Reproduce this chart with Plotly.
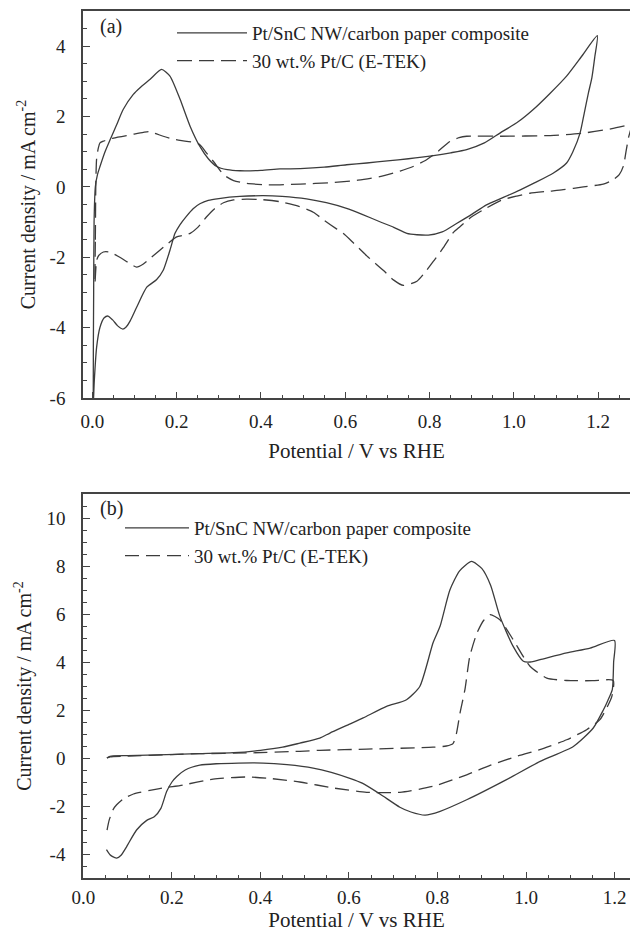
import plotly.graph_objects as go

# ---------------- Panel (a) data ----------------
a_sn_v = [0.002, 0.003, 0.004, 0.007, 0.012, 0.018, 0.030, 0.042, 0.057, 0.073, 0.097, 0.113,
          0.137, 0.164, 0.184, 0.208, 0.232, 0.255, 0.275, 0.295, 0.320, 0.350, 0.400, 0.445,
          0.493, 0.550, 0.603, 0.651, 0.700, 0.750, 0.809, 0.850, 0.888, 0.930, 0.967, 1.010,
          1.046, 1.085, 1.125, 1.160, 1.198,
          1.192, 1.185, 1.177, 1.167, 1.157, 1.140, 1.125, 1.093, 1.050, 1.014, 0.975, 0.935,
          0.900, 0.864, 0.830, 0.797, 0.770, 0.746, 0.715, 0.682, 0.640, 0.603, 0.555, 0.508,
          0.450, 0.405, 0.350, 0.300, 0.275, 0.255, 0.239, 0.222, 0.208, 0.196, 0.184, 0.168,
          0.152, 0.129, 0.105, 0.090, 0.080, 0.072, 0.060, 0.048, 0.037, 0.028, 0.018, 0.010,
          0.0045, 0.002]
a_sn_j = [-6.2, -3.0, -1.0, 0.0, 0.35, 0.58, 1.0, 1.34, 1.75, 2.2, 2.63, 2.82,
          3.06, 3.34, 3.15, 2.49, 1.72, 1.15, 0.80, 0.58, 0.49, 0.46, 0.47, 0.51,
          0.52, 0.56, 0.63, 0.68, 0.74, 0.80, 0.89, 0.97, 1.06, 1.25, 1.53, 1.85,
          2.20, 2.65, 3.15, 3.70, 4.30,
          3.70, 3.10, 2.68, 2.10, 1.53, 1.00, 0.68, 0.39, 0.12, -0.09, -0.30, -0.51,
          -0.78, -1.04, -1.28, -1.37, -1.36, -1.32, -1.15, -0.99, -0.78, -0.61, -0.45, -0.34,
          -0.27, -0.25, -0.27, -0.33, -0.38, -0.48, -0.62, -0.85, -1.07, -1.32, -1.80, -2.37,
          -2.64, -2.85, -3.42, -3.80, -3.98, -4.04, -3.95, -3.78, -3.67, -3.72, -3.99, -4.56,
          -5.51, -6.2]

a_pt_v = [0.006, 0.007, 0.008, 0.010, 0.014, 0.018, 0.026, 0.050, 0.090, 0.121, 0.135, 0.168,
          0.192, 0.208, 0.239, 0.255, 0.271, 0.290, 0.311, 0.335, 0.366, 0.414, 0.445, 0.493,
          0.564, 0.630, 0.682, 0.730, 0.761, 0.790, 0.817, 0.848, 0.870, 0.888, 0.967, 1.086,
          1.165, 1.230, 1.275, 1.280,
          1.272, 1.266, 1.260, 1.250, 1.235, 1.212, 1.165, 1.117, 1.086, 1.038, 1.007, 0.970,
          0.935, 0.900, 0.872, 0.856, 0.833, 0.810, 0.793, 0.770, 0.738, 0.715, 0.690, 0.651,
          0.620, 0.595, 0.580, 0.550, 0.524, 0.490, 0.445, 0.400, 0.366, 0.335, 0.311, 0.290,
          0.271, 0.250, 0.232, 0.215, 0.200, 0.180, 0.160, 0.140, 0.120, 0.105, 0.085, 0.065,
          0.040, 0.026, 0.015, 0.010, 0.006]
a_pt_j = [-2.75, -1.5, 0.0, 0.8, 1.1, 1.25, 1.30, 1.39, 1.48, 1.55, 1.57, 1.44,
          1.36, 1.32, 1.27, 1.20, 0.96, 0.68, 0.35, 0.18, 0.10, 0.06, 0.06, 0.08,
          0.12, 0.19, 0.29, 0.45, 0.58, 0.75, 0.98, 1.29, 1.40, 1.44, 1.44, 1.46,
          1.53, 1.65, 1.77, 1.79,
          1.40, 1.00, 0.60, 0.35, 0.20, 0.08, 0.00, -0.08, -0.12, -0.18, -0.26, -0.38,
          -0.60, -0.85, -1.13, -1.30, -1.72, -2.10, -2.37, -2.68, -2.80, -2.65, -2.37, -1.96,
          -1.60, -1.32, -1.20, -0.95, -0.72, -0.55, -0.42, -0.36, -0.35, -0.37, -0.45, -0.62,
          -0.85, -1.15, -1.32, -1.38, -1.42, -1.60, -1.80, -2.00, -2.20, -2.28, -2.15, -2.00,
          -1.85, -1.85, -1.95, -2.09, -2.75]

# ---------------- Panel (b) data ----------------
b_sn_v = [0.053, 0.060, 0.100, 0.188, 0.260, 0.339, 0.400, 0.450, 0.489, 0.534, 0.557, 0.600,
          0.632, 0.685, 0.730, 0.760, 0.790, 0.806, 0.828, 0.850, 0.877, 0.900, 0.920, 0.941,
          0.971, 0.994, 1.010, 1.032, 1.092, 1.145, 1.200,
          1.198, 1.195, 1.185, 1.175, 1.152, 1.107, 1.032, 0.956, 0.866, 0.806, 0.772, 0.740,
          0.715, 0.670, 0.630, 0.602, 0.560, 0.519, 0.460, 0.406, 0.350, 0.300, 0.263, 0.230,
          0.211, 0.200, 0.188, 0.175, 0.160, 0.143, 0.120, 0.098, 0.085, 0.075, 0.065, 0.060,
          0.052]
b_sn_j = [0.00, 0.07, 0.10, 0.14, 0.18, 0.22, 0.32, 0.45, 0.62, 0.83, 1.04, 1.40,
          1.67, 2.15, 2.43, 2.98, 4.80, 5.50, 7.00, 7.80, 8.19, 7.90, 7.20, 5.90,
          4.65, 4.03, 4.00, 4.10, 4.38, 4.58, 4.90,
          4.00, 2.85, 2.40, 2.01, 1.25, 0.48, -0.14, -0.90, -1.74, -2.22, -2.38, -2.25,
          -2.05, -1.50, -1.05, -0.85, -0.60, -0.42, -0.28, -0.21, -0.21, -0.24, -0.30, -0.50,
          -0.77, -1.00, -1.40, -2.10, -2.45, -2.60, -3.00, -3.68, -4.05, -4.17, -4.10, -4.03,
          -3.82]

b_pt_v = [0.053, 0.060, 0.100, 0.200, 0.263, 0.369, 0.489, 0.534, 0.640, 0.790, 0.820, 0.835,
          0.843, 0.851, 0.862, 0.873, 0.889, 0.905, 0.919, 0.941, 0.971, 1.009, 1.047, 1.092,
          1.150, 1.197,
          1.194, 1.180, 1.167, 1.137, 1.092, 1.040, 0.979, 0.920, 0.866, 0.790, 0.715, 0.640,
          0.565, 0.489, 0.420, 0.369, 0.293, 0.218, 0.188, 0.150, 0.113, 0.090, 0.075, 0.067,
          0.058, 0.052]
b_pt_j = [0.00, 0.05, 0.08, 0.14, 0.18, 0.21, 0.28, 0.32, 0.37, 0.45, 0.50, 0.60,
          1.04, 1.88, 2.85, 4.23, 5.20, 5.75, 5.97, 5.76, 4.93, 3.82, 3.33, 3.23,
          3.22, 3.23,
          2.57, 2.00, 1.60, 1.18, 0.76, 0.40, 0.07, -0.30, -0.70, -1.18, -1.43, -1.43,
          -1.25, -1.00, -0.85, -0.79, -0.88, -1.15, -1.22, -1.35, -1.50, -1.70, -1.95, -2.15,
          -2.60, -3.13]

series_names = ["Pt/SnC NW/carbon paper composite", "30 wt.% Pt/C (E-TEK)"]
panel_labels = ["(a)", "(b)"]
x_ticks = [0.0, 0.2, 0.4, 0.6, 0.8, 1.0, 1.2]
a_y_ticks = [-6, -4, -2, 0, 2, 4]
a_y_ticktext = ["-6", "-4", "-2", "0", "2", "4"]
b_y_ticks = [-4, -2, 0, 2, 4, 6, 8, 10]
b_y_ticktext = ["-4", "-2", "0", "2", "4", "6", "8", "10"]
x_title = "Potential / V vs RHE"
y_title = "Current density / mA cm<sup>-2</sup>"

FONT = "Liberation Serif, DejaVu Serif, serif"
INK = "#222222"
CURVE = "#3c3c3c"
AXC = "#444444"

fig = go.Figure()

def add(v, j, name, dash, xa, ya, legend):
    fig.add_trace(go.Scatter(
        x=v, y=j, name=name, mode="lines",
        line=dict(color=CURVE, width=1.3, dash=dash, shape="spline", smoothing=0.6),
        xaxis=xa, yaxis=ya, legend=legend,
    ))

add(a_sn_v, a_sn_j, series_names[0], "solid", "x", "y", "legend")
add(a_pt_v, a_pt_j, series_names[1], "15px,7px", "x", "y", "legend")
add(b_sn_v, b_sn_j, series_names[0], "solid", "x2", "y2", "legend2")
add(b_pt_v, b_pt_j, series_names[1], "14px,7px", "x2", "y2", "legend2")

L, R, T, B = 83, 0, 11, 54
W, H = 630, 932
ph = H - T - B
def py(p):
    return (H - B - p) / ph
def px(p):
    return (p - L) / (W - L - R)

def xaxis_style(label_standoff, title_standoff):
    return dict(
        tickvals=x_ticks, tickformat=".1f", ticks="inside", ticklen=6, tickwidth=1.2, tickcolor=AXC,
        minor=dict(dtick=0.05, tick0=0, ticks="inside", ticklen=3, tickwidth=1, tickcolor=AXC),
        showline=True, linewidth=1.5, linecolor=AXC, mirror=True,
        showgrid=False, zeroline=False, automargin=False,
        tickfont=dict(family=FONT, size=19, color=INK), ticklabelstandoff=label_standoff,
        title=dict(text=x_title, font=dict(family=FONT, size=21, color=INK), standoff=title_standoff),
    )

def yaxis_style(vals, texts):
    return dict(
        tickvals=vals, ticktext=texts, ticks="inside", ticklen=7, tickwidth=1.2, tickcolor=AXC,
        minor=dict(dtick=0.5, ticks="inside", ticklen=4, tickwidth=1, tickcolor=AXC),
        showline=True, linewidth=1.5, linecolor=AXC, mirror=False,
        showgrid=False, zeroline=False, automargin=False,
        tickfont=dict(family=FONT, size=19, color=INK), ticklabelstandoff=12,
        title=dict(text=y_title, font=dict(family=FONT, size=20, color=INK), standoff=9),
    )

fig.update_layout(
    width=W, height=H, margin=dict(l=L, r=R, t=T, b=B),
    paper_bgcolor="white", plot_bgcolor="white",
    font=dict(family=FONT, color=INK),
    xaxis=dict(xaxis_style(5, 13), domain=[0, 1], range=[-0.0223, 1.2755], anchor="y"),
    yaxis=dict(yaxis_style(a_y_ticks, a_y_ticktext), domain=[py(398), 1], range=[-6, 5], anchor="x"),
    xaxis2=dict(xaxis_style(1, 16), domain=[0, 1], range=[-0.001, 1.235], anchor="y2"),
    yaxis2=dict(yaxis_style(b_y_ticks, b_y_ticktext), domain=[0, py(494)], range=[-5, 11], anchor="x2"),
    legend=dict(x=px(172), y=py(14), xanchor="left", yanchor="top", itemwidth=70,
                bgcolor="rgba(0,0,0,0)", font=dict(family=FONT, size=19, color=INK),
                tracegroupgap=0),
    legend2=dict(x=px(120), y=py(509), xanchor="left", yanchor="top", itemwidth=64,
                 bgcolor="rgba(0,0,0,0)", font=dict(family=FONT, size=19, color=INK),
                 tracegroupgap=0),
    annotations=[
        dict(text=panel_labels[0], x=px(111), y=py(27), xref="paper", yref="paper",
             xanchor="center", yanchor="middle", showarrow=False,
             font=dict(family=FONT, size=20, color=INK)),
        dict(text=panel_labels[1], x=px(111), y=py(508), xref="paper", yref="paper",
             xanchor="center", yanchor="middle", showarrow=False,
             font=dict(family=FONT, size=20, color=INK)),
    ],
)

fig.write_html(
    "out.html",
    config={"displayModeBar": False},
    post_script="document.body.style.margin='0px';document.body.style.overflow='hidden';",
)
